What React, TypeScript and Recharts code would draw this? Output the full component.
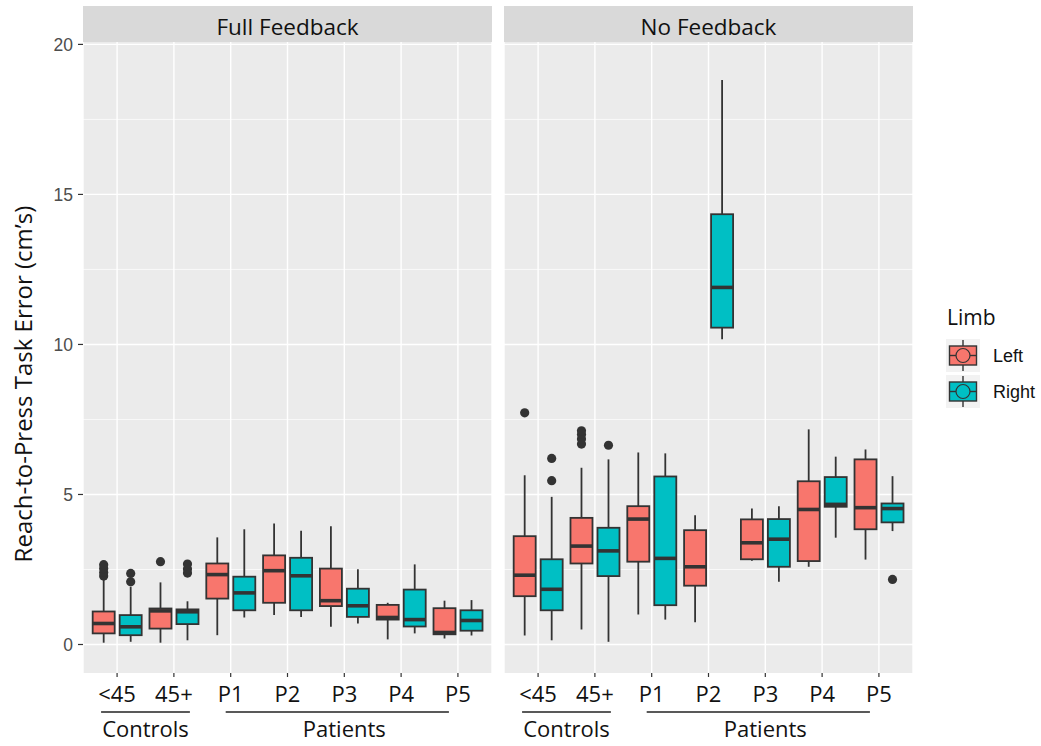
import React from 'react';
import { ComposedChart, Bar, XAxis, YAxis, CartesianGrid } from 'recharts';

const categories = ['<45', '45+', 'P1', 'P2', 'P3', 'P4', 'P5'];
const facets = ['Full Feedback', 'No Feedback'];
const limbs = ['Left', 'Right'];
const groupLabels = ['Controls', 'Patients'];
const yTicks = [0, 5, 10, 15, 20];
const yMinor = [2.5, 7.5, 12.5, 17.5];
const yDomain = [-0.95, 20.08];

// [lower whisker, Q1, median, Q3, upper whisker] per category
const fullLeft = [
  [0.06, 0.37, 0.7, 1.1, 2.2],
  [0.06, 0.53, 1.12, 1.2, 2.07],
  [0.31, 1.53, 2.33, 2.7, 3.57],
  [0.98, 1.39, 2.46, 2.97, 4.03],
  [0.59, 1.28, 1.46, 2.53, 3.94],
  [0.17, 0.83, 0.9, 1.32, 1.39],
  [0.2, 0.34, 0.4, 1.21, 1.46],
];
const fullRight = [
  [0.09, 0.31, 0.59, 0.98, 1.92],
  [0.14, 0.68, 1.09, 1.17, 1.44],
  [0.9, 1.14, 1.72, 2.26, 3.84],
  [0.92, 1.14, 2.29, 2.89, 3.79],
  [0.7, 0.92, 1.29, 1.86, 2.51],
  [0.37, 0.6, 0.83, 1.83, 2.67],
  [0.3, 0.46, 0.8, 1.14, 1.48],
];
const noLeft = [
  [0.3, 1.61, 2.31, 3.61, 5.64],
  [0.5, 2.7, 3.28, 4.22, 5.89],
  [1.0, 2.76, 4.18, 4.61, 6.4],
  [0.74, 1.96, 2.59, 3.81, 4.31],
  [2.79, 2.84, 3.39, 4.17, 4.53],
  [2.59, 2.78, 4.5, 5.44, 7.17],
  [2.83, 3.84, 4.56, 6.17, 6.5],
];
const noRight = [
  [0.14, 1.14, 1.84, 2.84, 4.92],
  [0.09, 2.28, 3.12, 3.89, 6.17],
  [0.83, 1.31, 2.87, 5.6, 6.37],
  [10.17, 10.56, 11.9, 14.34, 18.81],
  [2.09, 2.59, 3.51, 4.18, 4.61],
  [3.56, 4.59, 4.67, 5.58, 6.26],
  [3.78, 4.07, 4.53, 4.7, 5.61],
];

// outliers per category
const fullLeftOut = [[2.28, 2.4, 2.53, 2.66], [2.76], [], [], [], [], []];
const fullRightOut = [[2.09, 2.37], [2.38, 2.52, 2.68], [], [], [], [], []];
const noLeftOut = [[7.72], [6.68, 6.85, 7.0, 7.12], [], [], [], [], []];
const noRightOut = [[5.46, 6.2], [6.64], [], [], [], [], [2.17]];

const LEFT_COLOR = '#F8766D';
const RIGHT_COLOR = '#00BFC4';
const INK = '#333333';
const SANS = "'Open Sans', 'Noto Sans', sans-serif";
const ARIAL = "'Liberation Sans', Arial, sans-serif";

const PLOT_W = 409;
const BAND = PLOT_W / 7.2;
const PAD = (PLOT_W - 7 * BAND) / 2;

const buildRows = (left: number[][], right: number[][], lo: number[][], ro: number[][]) =>
  categories.map((cat, i) => ({ cat, L: left[i], R: right[i], LO: lo[i], RO: ro[i] }));

const fullRows = buildRows(fullLeft, fullRight, fullLeftOut, fullRightOut);
const noRows = buildRows(noLeft, noRight, noLeftOut, noRightOut);

const BoxShape = (props: any) => {
  const { x, y, width, height, payload, side, color } = props;
  if (!payload) return null;
  const s: number[] = payload[side];
  const outs: number[] = payload[side + 'O'] || [];
  const [mn, q1, md, q3, mx] = s;
  const top = Math.min(y, y + height);
  const h = Math.abs(height);
  const py = (v: number) => top + ((mx - v) / (mx - mn)) * h;
  const cx = x + width / 2;
  return (
    <g>
      <line x1={cx} x2={cx} y1={py(mx)} y2={py(mn)} stroke={INK} strokeWidth={1.8} />
      <rect
        x={x}
        y={py(q3)}
        width={width}
        height={py(q1) - py(q3)}
        fill={color}
        stroke={INK}
        strokeWidth={1.8}
      />
      <line x1={x} x2={x + width} y1={py(md)} y2={py(md)} stroke={INK} strokeWidth={3.6} />
      {outs.map((o, k) => (
        <circle key={k} cx={cx} cy={py(o)} r={4.6} fill={INK} />
      ))}
    </g>
  );
};

const XTick = (props: any) => {
  const { x, payload } = props;
  const idx = payload?.index ?? props.index;
  return (
    <g>
      <text x={x} y={702} textAnchor="middle" fontSize={22} fontFamily={SANS} fill="#111">
        {payload.value}
      </text>
      {idx === 0 && (
        <g>
          <line x1={x - 16} x2={x + BAND + 16} y1={712} y2={712} stroke="#222" strokeWidth={1.6} />
          <text x={x + BAND / 2} y={737} textAnchor="middle" fontSize={22} fontFamily={SANS} fill="#111">
            {groupLabels[0]}
          </text>
        </g>
      )}
      {idx === 2 && (
        <g>
          <line x1={x - 5} x2={x + 4 * BAND - 9} y1={712} y2={712} stroke="#222" strokeWidth={1.6} />
          <text x={x + 2 * BAND} y={737} textAnchor="middle" fontSize={22} fontFamily={SANS} fill="#111">
            {groupLabels[1]}
          </text>
        </g>
      )}
    </g>
  );
};

const Panel = ({ rows, showY, left, width, margin }: any) => (
  <div style={{ position: 'absolute', left, top: 0 }}>
    <ComposedChart
      width={width}
      height={746}
      data={rows}
      margin={margin}
      barGap={5}
    >
      <CartesianGrid
        fill="#EBEBEB"
        stroke="#FFFFFF"
        strokeWidth={0.7}
        vertical={false}
        horizontalValues={yMinor}
      />
      <CartesianGrid stroke="#FFFFFF" strokeWidth={1.4} horizontalValues={yTicks} />
      <XAxis
        dataKey="cat"
        type="category"
        interval={0}
        height={73}
        padding={{ left: PAD, right: PAD }}
        axisLine={false}
        tickLine={{ stroke: INK, strokeWidth: 1.2 }}
        tickSize={4}
        tick={<XTick />}
      />
      <YAxis
        type="number"
        domain={yDomain}
        ticks={yTicks}
        allowDataOverflow
        hide={!showY}
        width={83}
        axisLine={false}
        tickLine={{ stroke: INK, strokeWidth: 1.2 }}
        tickSize={5}
        tickMargin={5}
        tick={{ fill: '#4D4D4D', fontSize: 17.5, fontFamily: ARIAL }}
      />
      <Bar
        dataKey={(d: any) => [d.L[0], d.L[4]]}
        name={limbs[0]}
        barSize={22}
        fill={LEFT_COLOR}
        isAnimationActive={false}
        shape={(p: any) => <BoxShape {...p} side="L" color={LEFT_COLOR} />}
      />
      <Bar
        dataKey={(d: any) => [d.R[0], d.R[4]]}
        name={limbs[1]}
        barSize={22}
        fill={RIGHT_COLOR}
        isAnimationActive={false}
        shape={(p: any) => <BoxShape {...p} side="R" color={RIGHT_COLOR} />}
      />
    </ComposedChart>
  </div>
);

const LegendKey = ({ y, color }: any) => (
  <g>
    <rect x={946} y={y} width={34} height={33} fill="#F2F2F2" />
    <line x1={963} x2={963} y1={y + 1} y2={y + 32} stroke={INK} strokeWidth={1.4} />
    <rect x={949.5} y={y + 7} width={27} height={19} fill={color} stroke={INK} strokeWidth={1.4} />
    <line x1={949.5} x2={976.5} y1={y + 16.5} y2={y + 16.5} stroke={INK} strokeWidth={1.4} />
    <circle cx={963} cy={y + 16.5} r={7} fill={color} stroke={INK} strokeWidth={1.2} />
  </g>
);

export default function App() {
  return (
    <div style={{ position: 'absolute', left: 0, top: 0, width: 1041, height: 746, background: '#FFFFFF' }}>
      <svg width={1041} height={746} style={{ position: 'absolute', left: 0, top: 0 }}>
        <rect x={83} y={6} width={409} height={36} fill="#D9D9D9" />
        <text x={287.5} y={35} textAnchor="middle" fontSize={22.5} fontFamily={SANS} fill="#111">
          {facets[0]}
        </text>
        <rect x={504} y={6} width={409} height={36} fill="#D9D9D9" />
        <text x={708.5} y={35} textAnchor="middle" fontSize={22.5} fontFamily={SANS} fill="#111">
          {facets[1]}
        </text>
        <text
          x={22}
          y={384}
          textAnchor="middle"
          dominantBaseline="central"
          transform="rotate(-90, 22, 384)"
          fontSize={24}
          fontFamily={SANS}
          fill="#111"
        >
          Reach-to-Press Task Error (cm’s)
        </text>
        <text x={947} y={325} fontSize={21} fontFamily={SANS} fill="#111">
          Limb
        </text>
        <LegendKey y={339} color={LEFT_COLOR} />
        <LegendKey y={375} color={RIGHT_COLOR} />
        <text x={993} y={362} fontSize={18} fontFamily={ARIAL} fill="#111">
          {limbs[0]}
        </text>
        <text x={993} y={398} fontSize={18} fontFamily={ARIAL} fill="#111">
          {limbs[1]}
        </text>
      </svg>
      <Panel rows={fullRows} showY left={0} width={500} margin={{ top: 42, right: 8, bottom: 0, left: 0 }} />
      <Panel rows={noRows} showY={false} left={496} width={425} margin={{ top: 42, right: 8, bottom: 0, left: 8 }} />
    </div>
  );
}
